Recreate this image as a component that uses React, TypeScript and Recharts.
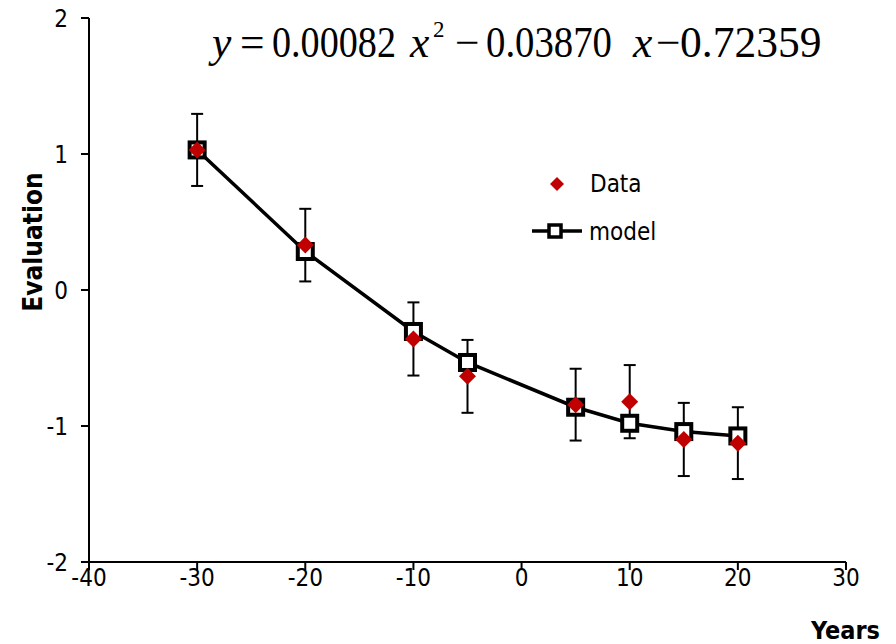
import { ComposedChart, Line, XAxis, YAxis, ErrorBar } from "recharts";

const years = [-30, -20, -10, -5, 5, 10, 15, 20];
const dataValues = [1.03, 0.33, -0.36, -0.635, -0.843, -0.821, -1.099, -1.126];
const dataErrors = [0.265, 0.267, 0.269, 0.268, 0.264, 0.269, 0.269, 0.264];
const modelValues = [1.03, 0.283, -0.305, -0.533, -0.862, -0.98, -1.041, -1.073];
const xTicks = [-40, -30, -20, -10, 0, 10, 20, 30];
const yTicks = [-2, -1, 0, 1, 2];

const rows = years.map((x, i) => ({
  x,
  data: dataValues[i],
  err: dataErrors[i],
  model: modelValues[i],
}));

const RED = "#C00000";
const FONT = "'DejaVu Sans Condensed', 'Liberation Sans', sans-serif";
const SERIF = "'Liberation Serif', serif";

// diamond marker for the measured points
const Diamond = (p: any) => {
  const { cx, cy, index } = p;
  if (cx == null || cy == null) return <g key={index} />;
  const r = 8.5;
  return (
    <polygon
      key={index}
      points={`${cx},${cy - r} ${cx + r},${cy} ${cx},${cy + r} ${cx - r},${cy}`}
      fill={RED}
    />
  );
};

// open square marker for the model line
const Square = (p: any) => {
  const { cx, cy, index } = p;
  if (cx == null || cy == null) return <g key={index} />;
  return <rect key={index} x={cx - 7.5} y={cy - 7.5} width={15} height={15} fill="#fff" stroke="#000" strokeWidth={4} />;
};

export default function App() {
  return (
    <div style={{ position: "absolute", left: 0, top: 0, width: 896, height: 644, background: "#fff" }}>
      <ComposedChart width={896} height={644} data={rows} margin={{ top: 18, right: 50, bottom: 0, left: 0 }}>
        <XAxis
          type="number"
          dataKey="x"
          domain={[-40, 30]}
          ticks={xTicks}
          height={82}
          stroke="#000"
          strokeWidth={2}
          tickSize={8}
          tickMargin={-1}
          tick={{ fontSize: 24, fill: "#000", fontFamily: FONT }}
          interval={0}
        />
        <YAxis
          type="number"
          domain={[-2, 2]}
          ticks={yTicks}
          width={89}
          stroke="#000"
          strokeWidth={2}
          tickSize={8}
          tickMargin={13}
          tick={{ fontSize: 24, fill: "#000", fontFamily: FONT }}
          interval={0}
        />
        {/* error bars first so the markers sit on top of them */}
        <Line dataKey="data" stroke="none" dot={false} activeDot={false} isAnimationActive={false}>
          <ErrorBar dataKey="err" direction="y" width={6} stroke="#000" strokeWidth={2} />
        </Line>
        <Line
          dataKey="model"
          stroke="#000"
          strokeWidth={3.5}
          dot={<Square />}
          activeDot={false}
          isAnimationActive={false}
        />
        <Line dataKey="data" stroke="none" dot={<Diamond />} activeDot={false} isAnimationActive={false} />
      </ComposedChart>
      <svg
        width={896}
        height={644}
        style={{ position: "absolute", left: 0, top: 0, pointerEvents: "none" }}
      >
        <g fontFamily={SERIF} fontSize={43.5} fill="#000">
          <text x={212} y={57} fontStyle="italic">y</text>
          <text x={240} y={57}>=</text>
          <text x={272} y={57} textLength={124} lengthAdjust="spacingAndGlyphs">0.00082</text>
          <text x={410} y={57} fontStyle="italic">x</text>
          <text x={433} y={37} fontSize={23}>2</text>
          <text x={455} y={57}>−</text>
          <text x={486} y={57} textLength={126} lengthAdjust="spacingAndGlyphs">0.03870</text>
          <text x={633} y={57} fontStyle="italic">x</text>
          <text x={656} y={57}>−</text>
          <text x={680} y={57}>0.72359</text>
        </g>
        <polygon points="557,177 564,184 557,191 550,184" fill={RED} />
        <text x={590} y={192} fontSize={24} fontFamily={FONT} fill="#000">Data</text>
        <line x1={532} y1={231} x2={582} y2={231} stroke="#000" strokeWidth={3.5} />
        <rect x={549} y={225} width={12} height={12} fill="#fff" stroke="#000" strokeWidth={3.5} />
        <text x={589} y={240} fontSize={24} fontFamily={FONT} fill="#000">model</text>
        <text x={880} y={639} textAnchor="end" fontSize={25} fontWeight="bold" fontFamily={FONT} fill="#000">
          Years
        </text>
        <text
          transform="translate(42,242) rotate(-90)"
          textAnchor="middle"
          fontSize={26}
          fontWeight="bold"
          fontFamily={FONT}
          fill="#000"
        >
          Evaluation
        </text>
      </svg>
    </div>
  );
}
